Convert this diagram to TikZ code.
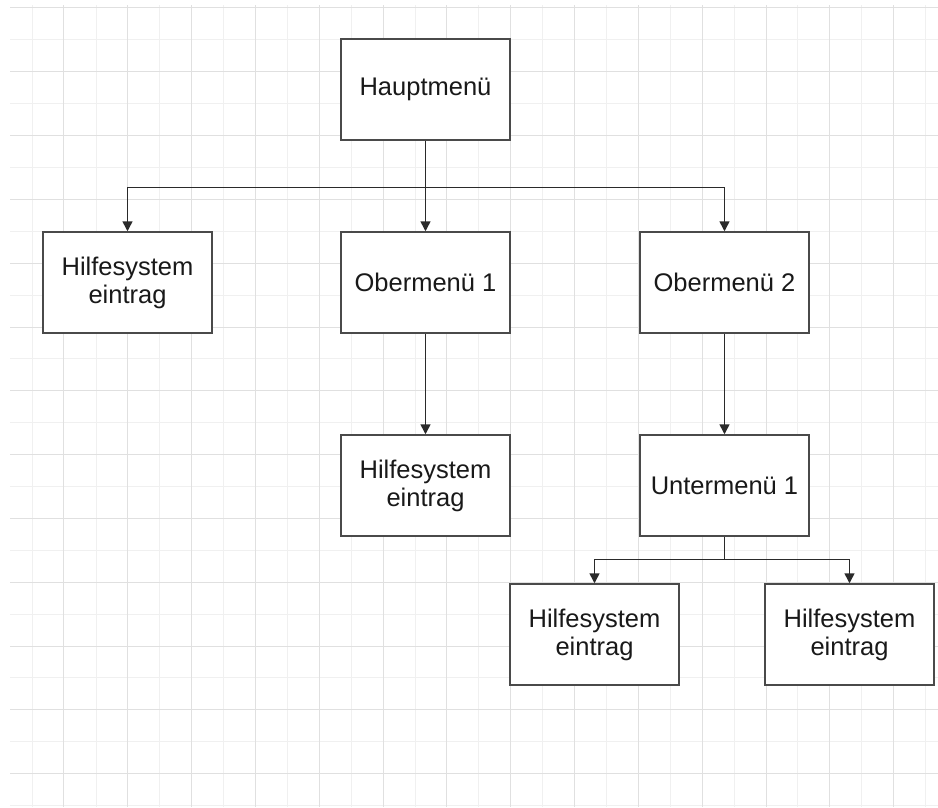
\documentclass[tikz,border=0pt]{standalone}
\usepackage{fontspec}
\setmainfont{Liberation Sans}
\usetikzlibrary{arrows.meta}
\definecolor{gridlight}{HTML}{F0F0F0}
\definecolor{griddark}{HTML}{E0E0E0}
\definecolor{boxline}{HTML}{4A4A4A}
\definecolor{conline}{HTML}{2A2A2A}
\tikzset{
  menubox/.style={draw=boxline, line width=1.5pt, fill=white, minimum width=169pt, minimum height=101pt, inner sep=0pt, align=center, font=\fontsize{25.5}{28}\selectfont, text=black!90},
  arr/.style={draw=conline, line width=1.5pt, -{Triangle[length=10pt,width=10pt]}},
  conn/.style={draw=conline, line width=1.5pt},
  gridd/.style={draw=griddark, line width=1.5pt},
  gridl/.style={draw=gridlight, line width=1.5pt}
}
\begin{document}
\begin{tikzpicture}[x=1pt,y=-1pt]
\useasboundingbox (0,0) rectangle (938,807);
\fill[white] (0,0) rectangle (938,807);
% grid: light lines first
\foreach \xx in {32.5,96.5,159.5,223.5,287.5,351.5,415.5,478.5,542.5,606.5,670.5,734.5,797.5,861.5,925.5}{
  \draw[gridl] (\xx,5) -- (\xx,807);
}
\foreach \yy in {39.5,103.5,167.5,231.5,295.5,358.5,422.5,486.5,550.5,614.5,677.5,741.5,805.5}{
  \draw[gridl] (10,\yy) -- (938,\yy);
}
% dark lines
\foreach \xx in {63.5,127.5,191.5,255.5,319.5,383.5,446.5,510.5,574.5,638.5,702.5,766.5,829.5,893.5}{
  \draw[gridd] (\xx,5) -- (\xx,807);
}
\foreach \yy in {7.5,71.5,135.5,199.5,263.5,327.5,390.5,454.5,518.5,582.5,646.5,709.5,773.5}{
  \draw[gridd] (10,\yy) -- (938,\yy);
}
% boxes
\node[menubox] (haupt) at (425.5,89.5) {Hauptmenü};
\node[menubox] (hilfeA) at (127.5,282.5) {Hilfesystem\\eintrag};
\node[menubox] (ober1) at (425.5,282.5) {Obermenü 1};
\node[menubox] (ober2) at (724.5,282.5) {Obermenü 2};
\node[menubox] (hilfeB) at (425.5,485.5) {Hilfesystem\\eintrag};
\node[menubox] (unter1) at (724.5,485.5) {Untermenü 1};
\node[menubox] (hilfeC) at (594.5,634.5) {Hilfesystem\\eintrag};
\node[menubox] (hilfeD) at (849.5,634.5) {Hilfesystem\\eintrag};
% connectors
\coordinate (bus1) at (425.5,187.5);
\coordinate (bus2) at (724.5,559.5);
\draw[conn] (haupt.south) -- (bus1);
\draw[arr] (bus1) -| (hilfeA.north);
\draw[arr] (bus1) -| (ober2.north);
\draw[arr] (haupt.south) -- (ober1.north);
\draw[arr] (ober1.south) -- (hilfeB.north);
\draw[arr] (ober2.south) -- (unter1.north);
\draw[conn] (unter1.south) -- (bus2);
\draw[arr] (bus2) -| (hilfeC.north);
\draw[arr] (bus2) -| (hilfeD.north);
\end{tikzpicture}
\end{document}
